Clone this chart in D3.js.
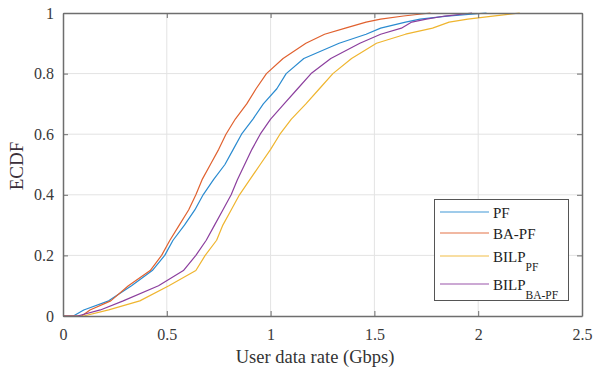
<!DOCTYPE html>
<html>
<head>
<meta charset="utf-8">
<script src="https://cdn.jsdelivr.net/npm/d3@7"></script>
<style>
  html, body { margin: 0; padding: 0; background: #fff; }
  svg { display: block; }
  text { font-family: "Liberation Serif", "Times New Roman", serif; }
</style>
</head>
<body>
<svg id="chart" width="593" height="371"></svg>
<script>
// ECDF levels (shared) and the x values (Gbps) where each series reaches them
const ecdfLevels = [0, 0.02, 0.05, 0.1, 0.15, 0.2, 0.25, 0.3, 0.35, 0.4, 0.45, 0.5, 0.55, 0.6, 0.65, 0.7, 0.75, 0.8, 0.85, 0.9, 0.93, 0.95, 0.97, 0.98, 0.99, 1];
const pfRates      = [0.05, 0.10, 0.22, 0.33, 0.43, 0.49, 0.53, 0.585, 0.635, 0.675, 0.725, 0.78, 0.82, 0.86, 0.915, 0.965, 1.03, 1.075, 1.16, 1.33, 1.46, 1.53, 1.65, 1.72, 1.85, 2.04];
const baPfRates    = [0.09, 0.13, 0.23, 0.315, 0.42, 0.475, 0.515, 0.56, 0.605, 0.64, 0.67, 0.71, 0.75, 0.785, 0.83, 0.885, 0.93, 0.98, 1.06, 1.17, 1.26, 1.36, 1.46, 1.53, 1.64, 1.77];
const bilpPfRates  = [0.10, 0.22, 0.37, 0.51, 0.64, 0.685, 0.74, 0.77, 0.81, 0.85, 0.9, 0.95, 1.0, 1.045, 1.10, 1.17, 1.235, 1.30, 1.39, 1.51, 1.65, 1.78, 1.86, 1.95, 2.07, 2.2];
const bilpBaPfRates= [0.07, 0.18, 0.29, 0.46, 0.58, 0.64, 0.69, 0.73, 0.77, 0.81, 0.84, 0.875, 0.91, 0.95, 1.0, 1.065, 1.13, 1.195, 1.29, 1.43, 1.53, 1.63, 1.68, 1.75, 1.84, 1.97];

const seriesNames = ["PF", "BA-PF", "BILP", "BILP"];
const seriesSubs  = ["", "", "PF", "BA-PF"];
const xTicks = [0, 0.5, 1, 1.5, 2, 2.5];
const yTicks = [0, 0.2, 0.4, 0.6, 0.8, 1];

const seriesRates = [pfRates, baPfRates, bilpPfRates, bilpBaPfRates];
const colors = ["#2a8bd0", "#e0612f", "#efb52f", "#8c3f9e"];

const svg = d3.select("#chart");
const L = 63, R = 582, T = 13, B = 316;

const x = d3.scaleLinear().domain([0, 2.5]).range([L, R]);
const y = d3.scaleLinear().domain([0, 1]).range([B, T]);

// grid
const grid = svg.append("g");
grid.selectAll(".gx").data(xTicks.slice(1, -1)).enter().append("line")
  .attr("x1", d => x(d)).attr("x2", d => x(d)).attr("y1", T).attr("y2", B)
  .attr("stroke", "#e3e3e3").attr("stroke-width", 1);
grid.selectAll(".gy").data(yTicks.slice(1, -1)).enter().append("line")
  .attr("x1", L).attr("x2", R).attr("y1", d => y(d)).attr("y2", d => y(d))
  .attr("stroke", "#e3e3e3").attr("stroke-width", 1);

// lines
const line = d3.line().x(d => x(d[0])).y(d => y(d[1]));
seriesRates.forEach((rates, i) => {
  const pts = rates.map((r, k) => [r, ecdfLevels[k]]);
  pts.unshift([0, 0]);
  svg.append("path").datum(pts)
    .attr("d", line)
    .attr("fill", "none")
    .attr("stroke", colors[i])
    .attr("stroke-width", 1.2)
    .attr("stroke-linejoin", "round");
});

// axes (box with inward ticks)
const axisColor = "#6e6e6e";
const tickLen = 5;
const axB = svg.append("g").attr("transform", `translate(0,${B})`)
  .call(d3.axisBottom(x).tickValues(xTicks).tickSizeInner(-tickLen).tickSizeOuter(0).tickPadding(13).tickFormat(d3.format("")));
const axL = svg.append("g").attr("transform", `translate(${L},0)`)
  .call(d3.axisLeft(y).tickValues(yTicks).tickSizeInner(-tickLen).tickSizeOuter(0).tickPadding(9).tickFormat(d3.format("")));
const axT = svg.append("g").attr("transform", `translate(0,${T})`)
  .call(d3.axisTop(x).tickValues(xTicks).tickSizeInner(-tickLen).tickSizeOuter(0).tickFormat(""));
const axR = svg.append("g").attr("transform", `translate(${R},0)`)
  .call(d3.axisRight(y).tickValues(yTicks).tickSizeInner(-tickLen).tickSizeOuter(0).tickFormat(""));
[axB, axL, axT, axR].forEach(g => {
  g.select(".domain").attr("stroke", axisColor).attr("stroke-width", 1.5);
  g.selectAll(".tick line").attr("stroke", axisColor).attr("stroke-width", 1);
  g.selectAll("text").attr("fill", "#3a3a3a").style("font-size", "16px")
    .style("font-family", "'Liberation Serif', serif");
});

// axis labels
svg.append("text").attr("x", 315).attr("y", 363)
  .attr("text-anchor", "middle").attr("fill", "#333").style("font-size", "18.5px")
  .text("User data rate (Gbps)");
svg.append("text").attr("transform", `translate(23,166) rotate(-90)`)
  .attr("text-anchor", "middle").attr("fill", "#3a2f3a").style("font-size", "19px")
  .text("ECDF");

// legend
const lg = svg.append("g");
lg.append("rect").attr("x", 434.5).attr("y", 199.5).attr("width", 134).attr("height", 101)
  .attr("fill", "#fff").attr("stroke", "#555").attr("stroke-width", 1);
const rowY = [212, 233, 256, 284];
seriesNames.forEach((name, i) => {
  lg.append("line").attr("x1", 440).attr("x2", 489).attr("y1", rowY[i]).attr("y2", rowY[i])
    .attr("stroke", colors[i]).attr("stroke-opacity", 0.6).attr("stroke-width", 1.5);
  const t = lg.append("text").attr("x", 493).attr("y", rowY[i] + 6)
    .attr("fill", "#222").style("font-size", "15px");
  t.append("tspan").text(name);
  if (seriesSubs[i]) {
    t.append("tspan").attr("dy", 9).style("font-size", "11.5px").text(seriesSubs[i]);
  }
});
</script>
</body>
</html>
